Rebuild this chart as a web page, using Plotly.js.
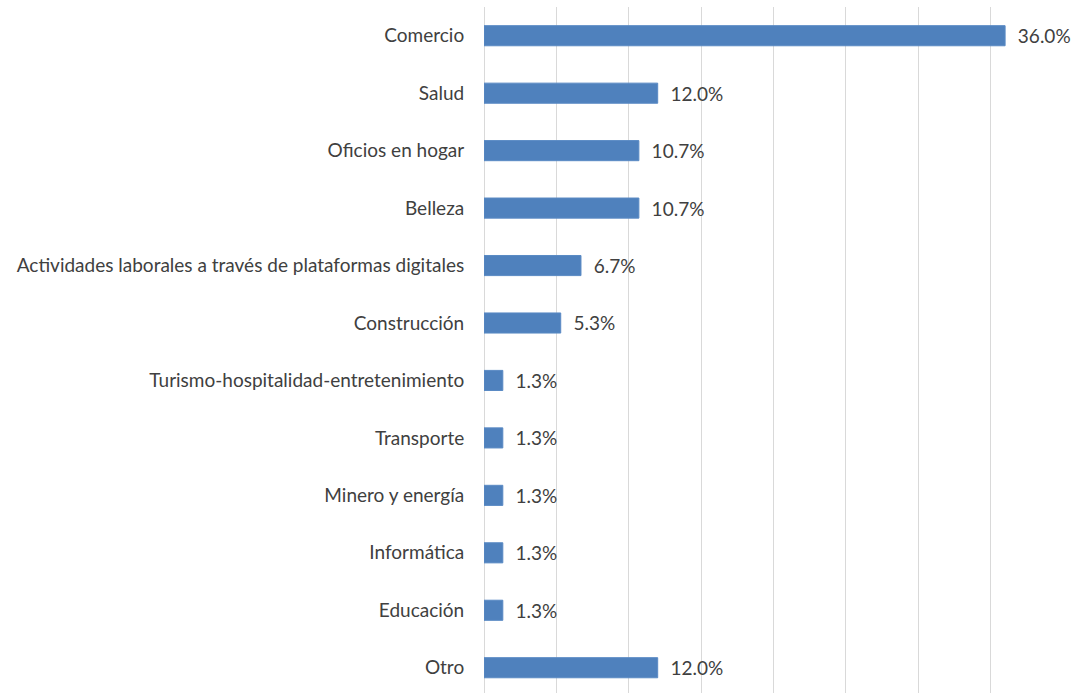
<!DOCTYPE html>
<html>
<head>
<meta charset="utf-8">
<script src="https://cdn.plot.ly/plotly-3.0.1.min.js"></script>
<style>html,body{margin:0;padding:0;background:#fff;overflow:hidden}#chart{width:1071px;height:693px}</style>
</head>
<body>
<div id="chart"></div>
<script>
const categories = [
  "Comercio",
  "Salud",
  "Oficios en hogar",
  "Belleza",
  "Actividades laborales a través de plataformas digitales",
  "Construcción",
  "Turismo-hospitalidad-entretenimiento",
  "Transporte",
  "Minero y energía",
  "Informática",
  "Educación",
  "Otro"
];
const values = [36.0, 12.0, 10.7, 10.7, 6.7, 5.3, 1.3, 1.3, 1.3, 1.3, 1.3, 12.0];
const labels = values.map(v => v.toFixed(1) + "%");

const font = "Lato, 'Open Sans', sans-serif";

Plotly.newPlot("chart", [{
  type: "bar",
  orientation: "h",
  y: categories,
  x: values,
  text: labels,
  texttemplate: "  %{text}",
  textposition: "outside",
  constraintext: "none",
  cliponaxis: false,
  textfont: {family: font, size: 19, color: "#404040"},
  width: 0.35,
  marker: {color: "#4f81bd", line: {color: "#5a8ac4", width: 1}},
  hoverinfo: "none"
}], {
  width: 1071,
  height: 693,
  margin: {l: 484, r: 8, t: 7, b: 0, pad: 0},
  paper_bgcolor: "#ffffff",
  plot_bgcolor: "#ffffff",
  showlegend: false,
  xaxis: {
    range: [0, 40],
    dtick: 5,
    showticklabels: false,
    showgrid: true,
    gridcolor: "#d9d9d9",
    gridwidth: 1,
    zeroline: true,
    zerolinecolor: "#d9d9d9",
    zerolinewidth: 1,
    showline: false,
    fixedrange: true
  },
  yaxis: {
    type: "category",
    categoryorder: "array",
    categoryarray: categories,
    range: [11.44, -0.5],
    autorange: false,
    showgrid: false,
    zeroline: false,
    showline: false,
    ticks: "outside",
    ticklen: 15,
    tickcolor: "rgba(0,0,0,0)",
    tickfont: {family: font, size: 19, color: "#404040"},
    fixedrange: true
  },
  font: {family: font, size: 19, color: "#404040"}
}, {displayModeBar: false, staticPlot: true});
</script>
</body>
</html>
